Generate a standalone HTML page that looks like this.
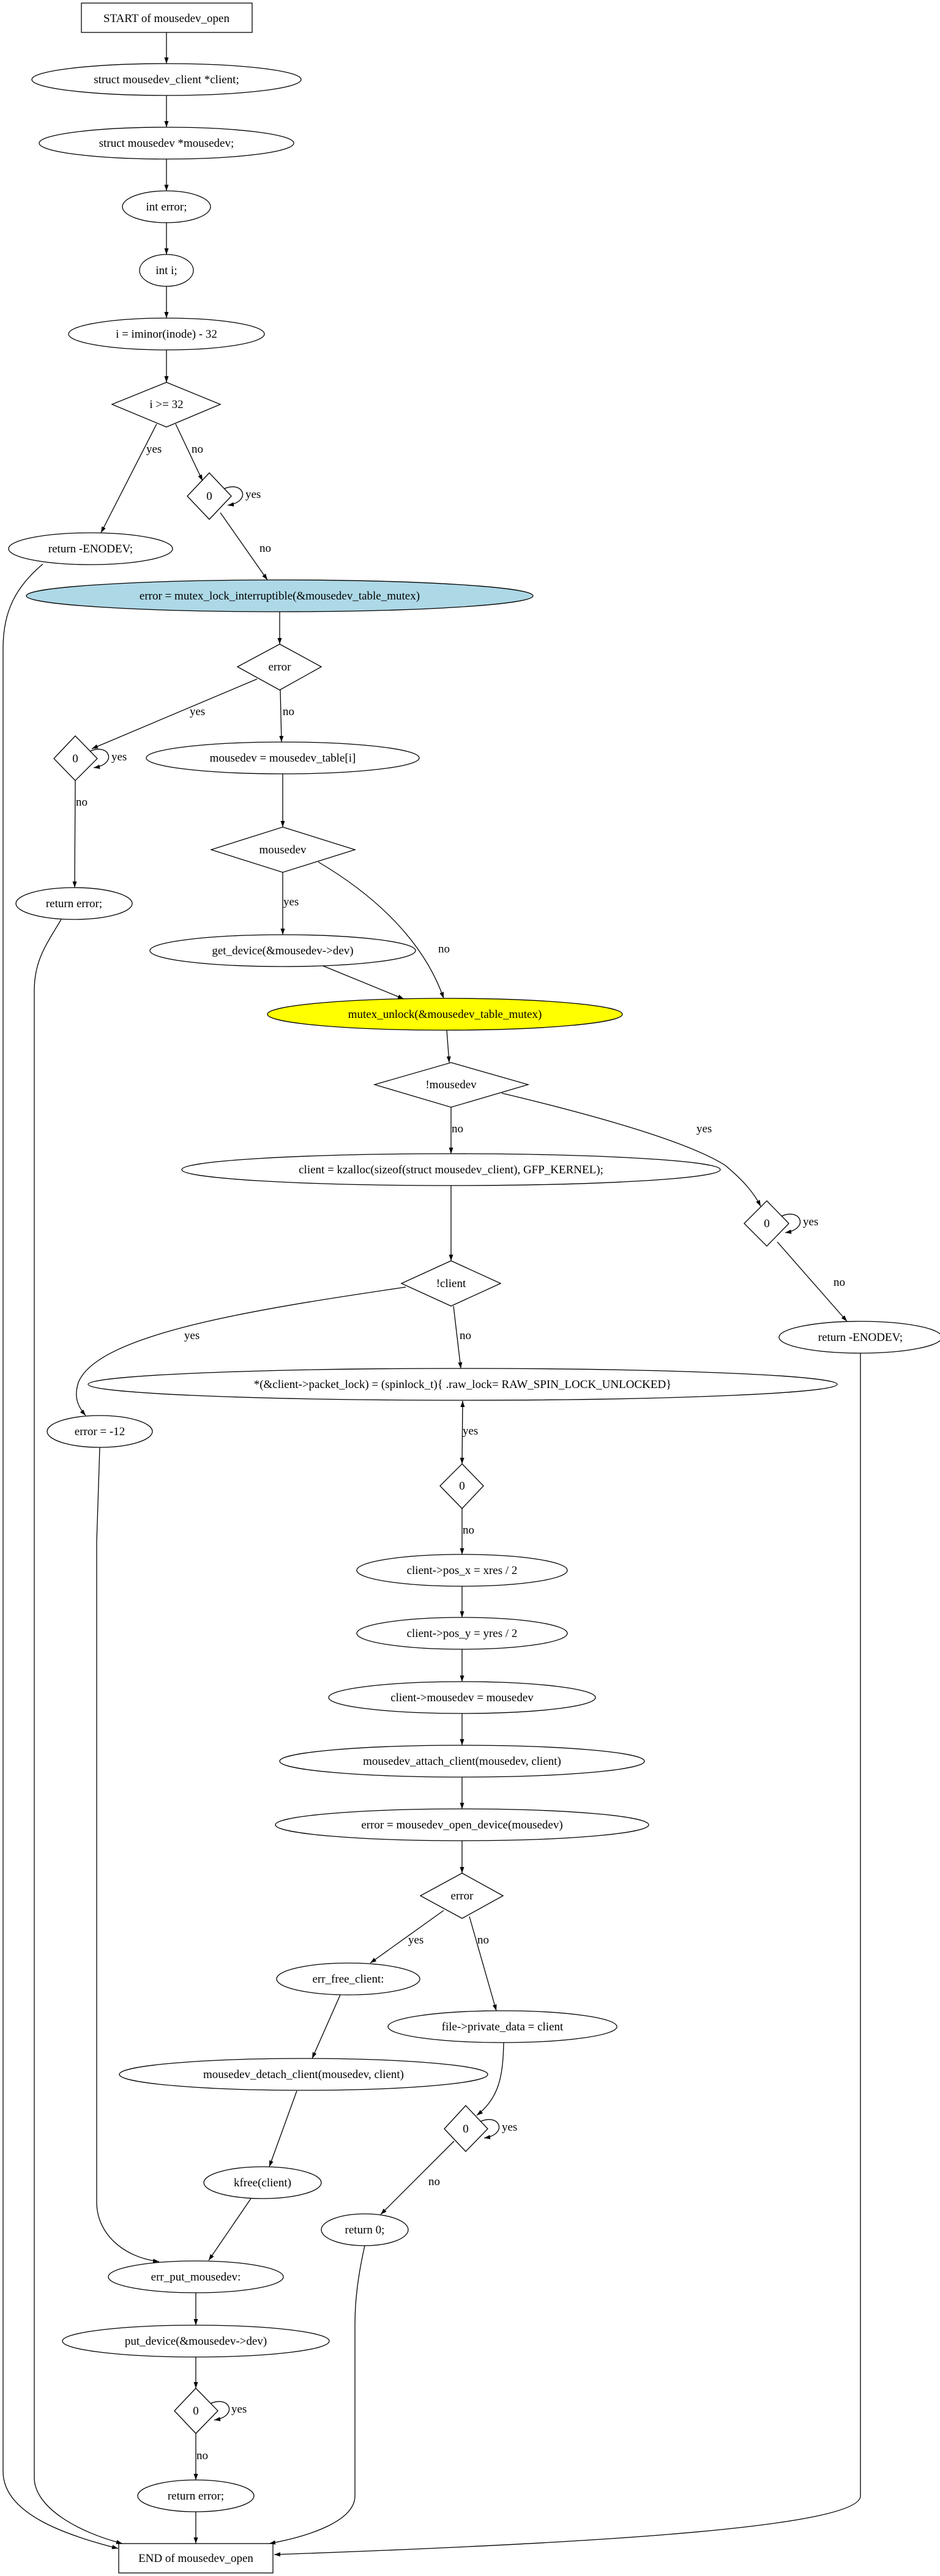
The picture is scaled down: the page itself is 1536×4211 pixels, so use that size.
<!DOCTYPE html>
<html><head><meta charset="utf-8"><style>
html,body{margin:0;padding:0;background:#fff}
svg{display:block}
text{font-family:"Liberation Serif",serif;font-size:19px;fill:#000}
</style></head><body>
<svg width="1536" height="4211" viewBox="0 0 1536 4211" xmlns="http://www.w3.org/2000/svg">
<defs>
<marker id="a" viewBox="0 0 10 10" refX="10" refY="5" markerWidth="10" markerHeight="10" markerUnits="userSpaceOnUse" orient="auto"><path d="M0,1.5 L10,5 L0,8.5 z" fill="#000"/></marker>
<marker id="s" viewBox="0 0 10 10" refX="0" refY="5" markerWidth="10" markerHeight="10" markerUnits="userSpaceOnUse" orient="auto"><path d="M10,1.5 L0,5 L10,8.5 z" fill="#000"/></marker>
</defs>
<g fill="none" stroke="#000" stroke-width="1.3">
<rect x="133" y="5" width="279" height="48" fill="#fff"/>
<ellipse cx="272" cy="130" rx="220" ry="26"/>
<ellipse cx="272" cy="234" rx="208" ry="26"/>
<ellipse cx="272" cy="338" rx="72" ry="26"/>
<ellipse cx="272" cy="442" rx="44" ry="26"/>
<ellipse cx="272" cy="546" rx="160" ry="26"/>
<polygon points="272,625 360,661 272,698 183,661"/>
<polygon points="342,773 378,811 342,849 306,811"/>
<ellipse cx="148" cy="897" rx="134" ry="26"/>
<ellipse cx="457" cy="974" rx="414" ry="26" fill="#add8e6"/>
<polygon points="457,1053 525,1090 457,1128 388,1090"/>
<polygon points="123,1203 159,1240 123,1276 88,1240"/>
<ellipse cx="462" cy="1239" rx="223" ry="26"/>
<polygon points="462,1352 580,1389 462,1426 345,1389"/>
<ellipse cx="121" cy="1477" rx="95" ry="26"/>
<ellipse cx="462" cy="1554" rx="217" ry="26"/>
<ellipse cx="727" cy="1658" rx="290" ry="26" fill="#ffff00"/>
<polygon points="737,1737 863,1773 737,1810 612,1773"/>
<ellipse cx="737" cy="1912" rx="440" ry="26"/>
<polygon points="1253,1963 1289,2000 1253,2037 1216,2000"/>
<polygon points="737,2061 818,2098 737,2135 656,2098"/>
<ellipse cx="1406" cy="2186" rx="133" ry="26"/>
<ellipse cx="756" cy="2263" rx="612" ry="26"/>
<ellipse cx="163" cy="2340" rx="86" ry="26"/>
<polygon points="755,2393 790,2429 755,2466 719,2429"/>
<ellipse cx="755" cy="2567" rx="172" ry="26"/>
<ellipse cx="755" cy="2670" rx="172" ry="26"/>
<ellipse cx="755" cy="2775" rx="218" ry="26"/>
<ellipse cx="755" cy="2879" rx="298" ry="26"/>
<ellipse cx="755" cy="2983" rx="305" ry="26"/>
<polygon points="755,3062 822,3099 755,3136 687,3099"/>
<ellipse cx="569" cy="3235" rx="117" ry="26"/>
<ellipse cx="821" cy="3313" rx="187" ry="26"/>
<ellipse cx="496" cy="3391" rx="301" ry="26"/>
<polygon points="761,3442 797,3480 761,3517 726,3480"/>
<ellipse cx="429" cy="3568" rx="96" ry="26"/>
<ellipse cx="596" cy="3645" rx="71" ry="26"/>
<ellipse cx="320" cy="3722" rx="143" ry="26"/>
<ellipse cx="320" cy="3827" rx="218" ry="26"/>
<polygon points="320,3904 356,3941 320,3978 285,3941"/>
<ellipse cx="320" cy="4080" rx="95" ry="26"/>
<rect x="194" y="4158" width="252" height="48" fill="#fff"/>

<g marker-end="url(#a)">
<path d="M272 53 L272 104"/>
<path d="M272 156 L272 208"/>
<path d="M272 260 L272 312"/>
<path d="M272 364 L272 416"/>
<path d="M272 468 L272 520"/>
<path d="M272 572 L272 625"/>
<path d="M256 693 L165 871"/>
<path d="M287 693 L331 786"/>
<path d="M360 838 L437 948"/>
<path d="M457 1000 L457 1053"/>
<path d="M420 1110 L150 1224"/>
<path d="M458 1128 L460 1213"/>
<path d="M123 1276 L122 1451"/>
<path d="M462 1265 L462 1352"/>
<path d="M462 1426 L462 1528"/>
<path d="M520 1409 C640 1480 700 1560 725 1632"/>
<path d="M528 1579 L660 1633"/>
<path d="M730 1684 L734 1737"/>
<path d="M737 1810 L737 1886"/>
<path d="M820 1787 C1000 1830 1130 1870 1185 1905 C1215 1930 1232 1950 1243 1972"/>
<path d="M737 1938 L737 2061"/>
<path d="M1270 2030 L1384 2160"/>
<path d="M663 2104 C420 2140 160 2180 128 2260 C120 2285 128 2300 140 2314"/>
<path d="M741 2135 L753 2237"/>
<path d="M756 2290 L755 2393" marker-start="url(#s)"/>
<path d="M755 2466 L755 2541"/>
<path d="M755 2593 L755 2644"/>
<path d="M755 2696 L755 2749"/>
<path d="M755 2801 L755 2853"/>
<path d="M755 2905 L755 2957"/>
<path d="M755 3009 L755 3062"/>
<path d="M725 3123 L605 3209"/>
<path d="M767 3133 L811 3287"/>
<path d="M556 3261 L510 3365"/>
<path d="M823 3339 C822 3395 815 3430 779 3458"/>
<path d="M485 3418 L440 3542"/>
<path d="M410 3594 L341 3695"/>
<path d="M742 3500 L622 3620"/>
<path d="M320 3748 L320 3801"/>
<path d="M320 3853 L320 3904"/>
<path d="M320 3978 L320 4054"/>
<path d="M320 4106 L320 4158"/>
<path d="M70 922 C25 960 5 1000 5 1060 L5 4040 C5 4110 110 4145 193 4166"/>
<path d="M100 1503 C75 1545 56 1570 56 1620 L56 4050 C56 4100 130 4140 200 4158"/>
<path d="M163 2366 L158 2520 L158 3600 C158 3650 200 3690 260 3697"/>
<path d="M1406 2212 L1406 4080 C1406 4135 900 4160 448 4176"/>
<path d="M596 3671 C585 3720 580 3760 580 3800 L580 4080 C580 4120 510 4145 440 4158"/>
<path d="M366 799 C398 785 412 820 372 826"/>
<path d="M147 1228 C179 1214 193 1249 153 1255"/>
<path d="M1277 1988 C1309 1974 1323 2009 1283 2015"/>
<path d="M785 3468 C817 3454 831 3489 791 3495"/>
<path d="M344 3929 C376 3915 390 3950 350 3956"/>
</g>
</g>

<g text-anchor="middle">
<text x="272" y="36">START of mousedev_open</text>
<text x="272" y="136">struct mousedev_client *client;</text>
<text x="272" y="240">struct mousedev *mousedev;</text>
<text x="272" y="344">int error;</text>
<text x="272" y="448">int i;</text>
<text x="272" y="552">i = iminor(inode) - 32</text>
<text x="272" y="667">i &gt;= 32</text>
<text x="342" y="817">0</text>
<text x="148" y="903">return -ENODEV;</text>
<text x="457" y="980">error = mutex_lock_interruptible(&amp;mousedev_table_mutex)</text>
<text x="457" y="1096">error</text>
<text x="123" y="1246">0</text>
<text x="462" y="1245">mousedev = mousedev_table[i]</text>
<text x="462" y="1395">mousedev</text>
<text x="121" y="1483">return error;</text>
<text x="462" y="1560">get_device(&amp;mousedev-&gt;dev)</text>
<text x="727" y="1664">mutex_unlock(&amp;mousedev_table_mutex)</text>
<text x="737" y="1779">!mousedev</text>
<text x="737" y="1918">client = kzalloc(sizeof(struct mousedev_client), GFP_KERNEL);</text>
<text x="1253" y="2006">0</text>
<text x="737" y="2104">!client</text>
<text x="1406" y="2192">return -ENODEV;</text>
<text x="756" y="2269">*(&amp;client-&gt;packet_lock) = (spinlock_t){ .raw_lock=   RAW_SPIN_LOCK_UNLOCKED}</text>
<text x="163" y="2346">error = -12</text>
<text x="755" y="2435">0</text>
<text x="755" y="2573">client-&gt;pos_x = xres / 2</text>
<text x="755" y="2676">client-&gt;pos_y = yres / 2</text>
<text x="755" y="2781">client-&gt;mousedev = mousedev</text>
<text x="755" y="2885">mousedev_attach_client(mousedev, client)</text>
<text x="755" y="2989">error = mousedev_open_device(mousedev)</text>
<text x="755" y="3105">error</text>
<text x="569" y="3241">err_free_client:</text>
<text x="821" y="3319">file-&gt;private_data = client</text>
<text x="496" y="3397">mousedev_detach_client(mousedev, client)</text>
<text x="761" y="3486">0</text>
<text x="429" y="3574">kfree(client)</text>
<text x="596" y="3651">return 0;</text>
<text x="320" y="3728">err_put_mousedev:</text>
<text x="320" y="3833">put_device(&amp;mousedev-&gt;dev)</text>
<text x="320" y="3947">0</text>
<text x="320" y="4086">return error;</text>
<text x="320" y="4188">END of mousedev_open</text>
</g>
<g>
<text x="239" y="740">yes</text>
<text x="313" y="740">no</text>
<text x="401" y="814">yes</text>
<text x="424" y="902">no</text>
<text x="310" y="1169">yes</text>
<text x="462" y="1169">no</text>
<text x="182" y="1243">yes</text>
<text x="124" y="1317">no</text>
<text x="463" y="1480">yes</text>
<text x="716" y="1557">no</text>
<text x="738" y="1851">no</text>
<text x="1138" y="1851">yes</text>
<text x="1312" y="2003">yes</text>
<text x="1362" y="2102">no</text>
<text x="301" y="2189">yes</text>
<text x="751" y="2189">no</text>
<text x="756" y="2345">yes</text>
<text x="756" y="2507">no</text>
<text x="667" y="3177">yes</text>
<text x="780" y="3177">no</text>
<text x="820" y="3483">yes</text>
<text x="700" y="3572">no</text>
<text x="378" y="3944">yes</text>
<text x="321" y="4020">no</text>
</g>
</svg>
</body></html>
